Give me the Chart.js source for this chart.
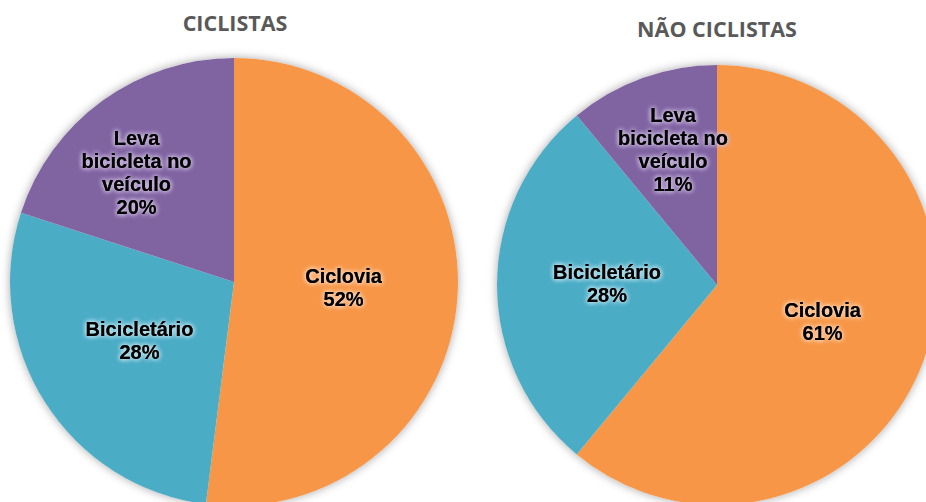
<!DOCTYPE html>
<html>
<head>
<meta charset="utf-8">
<script src="https://cdn.jsdelivr.net/npm/chart.js@4.4.0/dist/chart.umd.min.js"></script>
<style>
  body { margin: 0; background: #fff; }
  #wrap { position: relative; width: 926px; height: 502px; overflow: hidden; }
  .title { position: absolute; font-family: "Open Sans", sans-serif; font-weight: bold;
           font-size: 21.5px; color: #595959; text-align: center; width: 300px; }
  canvas { position: absolute; }
</style>
</head>
<body>
<div id="wrap">
  <div class="title" style="left:85px; top:8px;">CICLISTAS</div>
  <div class="title" style="left:567px; top:14px;">NÃO CICLISTAS</div>
  <canvas id="ciclistas" width="488" height="488" style="left:-10px; top:38px;"></canvas>
  <canvas id="naoCiclistas" width="480" height="480" style="left:477px; top:45px;"></canvas>
</div>
<script>
// categories and values (percent)
var categories = ['Ciclovia', 'Bicicletário', 'Leva bicicleta no veículo'];
var labelLines = [['Ciclovia'], ['Bicicletário'], ['Leva', 'bicicleta no', 'veículo']];
var ciclistas = [52, 28, 20];
var naoCiclistas = [61, 28, 11];
var colors = ['#F79646', '#4BACC6', '#8064A2'];
var glowColors = ['#FCD3B3', '#BDE3EE', '#CDBDE0'];

// soft shadow under the whole pie
var pieShadow = {
    id: 'pieShadow',
    beforeDatasetsDraw: function (chart) {
        var arc = chart.getDatasetMeta(0).data[0];
        var ctx = chart.ctx;
        ctx.save();
        ctx.shadowColor = 'rgba(0,0,0,0.35)';
        ctx.shadowBlur = 10;
        ctx.fillStyle = '#fff';
        ctx.beginPath();
        ctx.arc(arc.x, arc.y, arc.outerRadius, 0, Math.PI * 2);
        ctx.fill();
        ctx.restore();
    }
};

// labels inside slices (radius fraction + small angle shift in degrees)
var sliceLabels = {
    id: 'sliceLabels',
    afterDatasetsDraw: function (chart, args, opts) {
        var ctx = chart.ctx;
        var meta = chart.getDatasetMeta(0);
        var values = chart.data.datasets[0].data;
        meta.data.forEach(function (arc, i) {
            var mid = (arc.startAngle + arc.endAngle) / 2 + opts.shift[i] * Math.PI / 180;
            var r = arc.outerRadius * opts.radius[i];
            var x = arc.x + Math.cos(mid) * r;
            var y = arc.y + Math.sin(mid) * r;
            var lines = labelLines[i].concat([values[i] + '%']);
            var lh = 23;
            var y0 = y - (lines.length - 1) * lh / 2;
            ctx.save();
            ctx.font = 'bold 20px "Liberation Sans", Arial, sans-serif';
            ctx.textAlign = 'center';
            ctx.textBaseline = 'middle';
            lines.forEach(function (t, k) {
                ctx.shadowColor = glowColors[i];
                ctx.shadowBlur = 5;
                ctx.fillStyle = '#000';
                for (var n = 0; n < 3; n++) ctx.fillText(t, x, y0 + k * lh);
            });
            ctx.restore();
        });
    }
};

function createPie(canvasId, values, labelRadius, labelShift) {
    var config = {
        type: 'pie',
        data: {
            labels: categories,
            datasets: [{
                data: values,
                backgroundColor: colors,
                borderWidth: 0
            }]
        },
        options: {
            responsive: false,
            animation: false,
            layout: { padding: 20 },
            plugins: {
                legend: { display: false },
                tooltip: { enabled: false },
                sliceLabels: { radius: labelRadius, shift: labelShift }
            }
        },
        plugins: [pieShadow, sliceLabels]
    };
    var ctx = document.getElementById(canvasId).getContext('2d');
    return new Chart(ctx, config);
}

createPie('ciclistas', ciclistas, [0.49, 0.5, 0.65], [0, 0, -6]);
createPie('naoCiclistas', naoCiclistas, [0.51, 0.5, 0.64], [0, 0, 1.6]);
</script>
</body>
</html>
